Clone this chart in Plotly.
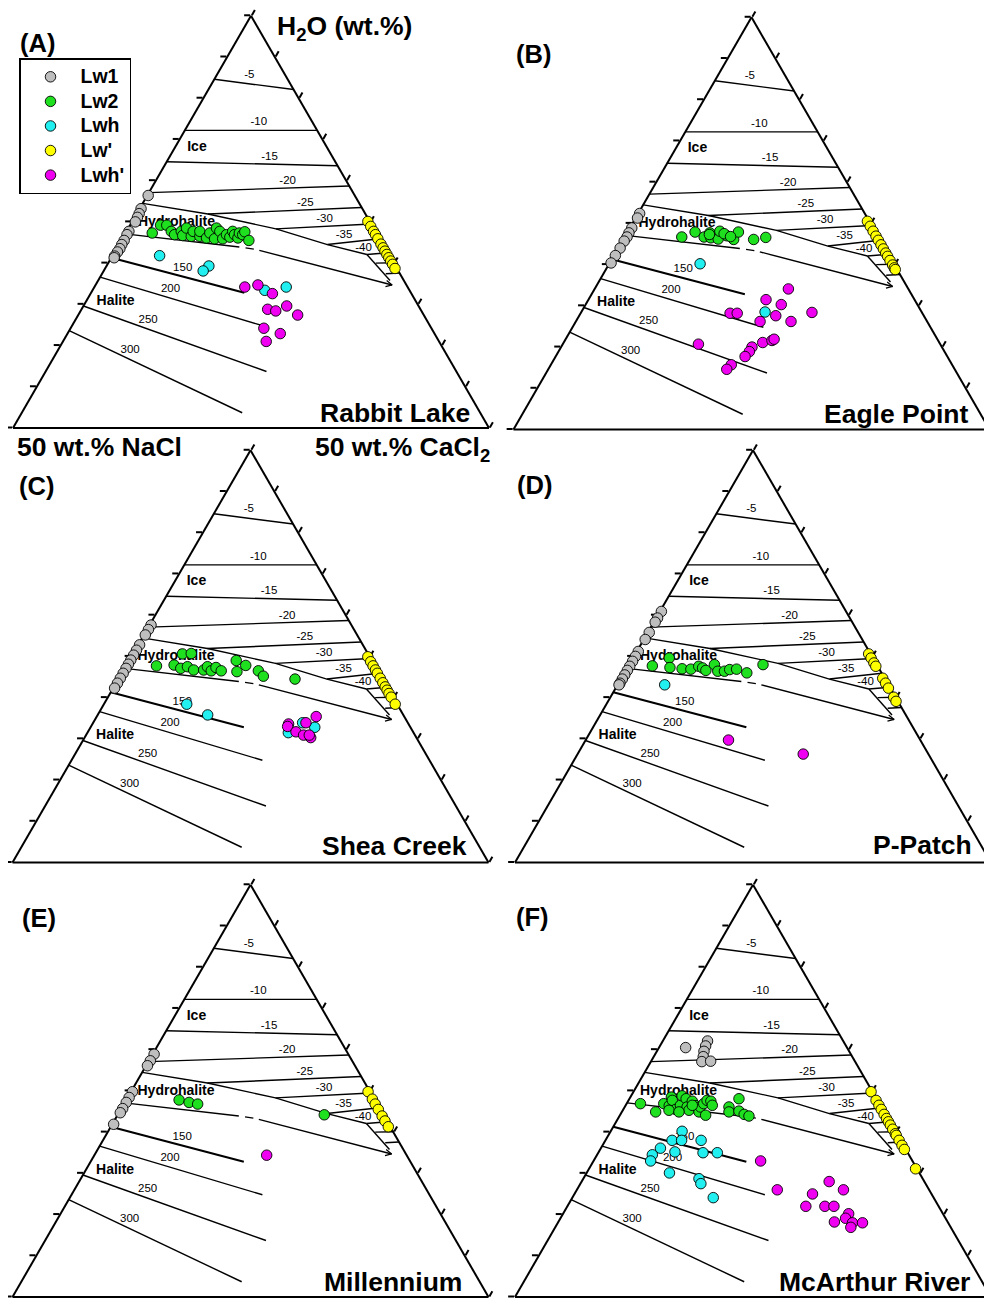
import plotly.graph_objects as go

FONT = "Liberation Sans, Arial, Helvetica, sans-serif"
FIG_W, FIG_H = 992, 1299
PAGE_MARGIN = 8  # default body margin of the html page

# ---------------- base diagram (shared by every panel), H2O / CaCl2 in % of the normalised triangle
ICE_ISO_T = ["-5", "-10", "-15", "-20", "-25", "-30", "-35", "-40"]
ice_iso_h2o_start = [84.6, 72.2, 64.6, 57.1, 51.9, 48.3, 44.5, 42.1]
ice_iso_cacl2_start = [0.0, 0.0, 0.0, 0.0, 15.0, 31.1, 43.8, 53.3]
ice_iso_h2o_end = [82.1, 72.2, 63.6, 58.7, 53.5, 49.5, 45.9, 42.5]
ice_iso_cacl2_end = [17.9, 27.8, 36.4, 41.3, 46.5, 50.5, 54.1, 57.5]
ice_lab_h2o = [85.7, 74.1, 65.8, 59.8, 54.6, 50.7, 46.9, 43.7]
ice_lab_cacl2 = [6.8, 14.6, 21.0, 27.8, 34.1, 40.1, 46.1, 51.8]

low_iso_h2o_start = [40.0, 37.4]
low_iso_cacl2_start = [56.2, 59.6]
low_iso_h2o_end = [40.1, 37.6]
low_iso_cacl2_end = [59.9, 62.4]

HAL_T = ["150", "200", "250", "300"]
hal_h2o_start = [41.3, 36.6, 29.6, 23.6]
hal_cacl2_start = [0.0, 0.0, 0.0, 0.0]
hal_h2o_end = [32.8, 24.8, 13.7, 3.7]
hal_cacl2_end = [32.2, 40.1, 46.4, 46.3]
hal_lab_h2o = [38.9, 33.8, 26.2, 19.0]
hal_lab_cacl2 = [16.2, 16.2, 15.3, 15.1]

ice_hh_h2o = [54.5, 51.9, 48.3, 44.5, 42.1]
ice_hh_cacl2 = [0.0, 15.0, 31.1, 43.8, 53.3]
eut_tail_h2o = [42.1, 35.8]
eut_tail_cacl2 = [53.3, 61.3]
hh_hal_h2o = [47.1, 43.9, None, 43.7, 43.4, None, 43.1, 34.7]
hh_hal_cacl2 = [0.0, 25.6, None, 27.0, 28.9, None, 30.2, 62.3]
arrow_h2o = [34.3, 34.7, 35.8]
arrow_cacl2 = [61.1, 62.3, 60.6]

FIELD_T = ["<b>Ice</b>", "<b>Hydrohalite</b>", "<b>Halite</b>"]
field_h2o = [68.1, 49.9, 30.7]
field_cacl2 = [4.6, 9.4, 6.2]

# ---------------- inclusion data (H2O, CaCl2 in %)
SERIES = ["Lw1", "Lw2", "Lwh", "Lw'", "Lwh'"]
COLORS = ["#BEBEBE", "#1EE01E", "#22F0F0", "#FFFF00", "#F000F0"]

# (A) Rabbit Lake
A_lw1_h2o = [56.4, 53.2, 52.0, 51.1, 50.0, 47.7, 46.9, 45.5, 44.5, 43.5, 42.7, 41.7, 41.3]
A_lw1_cacl2 = [0.2, 0.3, 0.5, 0.6, 0.7, 0.5, 0.5, 0.6, 0.6, 0.7, 0.6, 0.5, 0.6]
A_lw2_h2o = [47.3, 49.2, 49.2, 47.7, 46.9, 47.7, 46.7, 48.5, 46.5, 47.7, 46.5, 47.7, 46.1, 47.3,
             45.9, 48.5, 47.7, 45.9, 46.9, 46.3, 47.7, 46.9, 46.1, 47.3, 46.9, 47.6, 45.5]
A_lw2_cacl2 = [5.6, 6.4, 7.7, 9.4, 10.5, 11.5, 12.3, 12.2, 14.2, 14.0, 16.0, 15.4, 17.6, 17.7,
               19.4, 18.5, 19.6, 21.1, 21.4, 22.4, 22.3, 23.1, 24.2, 23.9, 24.8, 24.9, 26.8]
A_lwh_h2o = [41.8, 39.3, 38.1, 33.4, 34.2]
A_lwh_cacl2 = [9.9, 21.5, 20.9, 36.2, 40.3]
A_lwp_h2o = [50.1, 48.9, 47.7, 46.9, 45.9, 44.6, 43.7, 42.9, 42.1, 41.3, 40.5, 39.7, 38.7]
A_lwp_cacl2 = [49.5, 50.7, 51.9, 52.7, 53.7, 55.0, 55.9, 56.7, 57.5, 58.3, 59.1, 59.9, 60.9]
A_lwhp_h2o = [34.2, 34.7, 32.6, 28.8, 28.4, 29.6, 27.4, 24.2, 22.9, 21.0]
A_lwhp_cacl2 = [31.6, 34.1, 38.2, 39.1, 41.0, 42.7, 46.1, 40.6, 44.7, 42.7]

# (B) Eagle Point
B_lw1_h2o = [52.4, 51.3, 48.9, 47.7, 46.7, 45.7, 44.0, 42.2, 40.4]
B_lw1_cacl2 = [0.3, 0.4, 0.4, 0.4, 0.5, 0.4, 0.4, 0.3, 0.3]
B_lw2_h2o = [46.7, 47.9, 46.7, 47.7, 46.5, 46.2, 48.1, 47.0, 46.1, 47.9, 46.1, 46.6, 47.3, 47.5, 46.8]
B_lw2_cacl2 = [12.0, 14.2, 16.7, 17.4, 18.2, 19.9, 19.3, 21.3, 23.2, 23.3, 27.4, 29.7, 17.5, 20.5, 22.2]
B_lwh_h2o = [40.2, 28.5]
B_lwh_cacl2 = [19.1, 38.6]
B_lwp_h2o = [50.5, 49.3, 48.1, 46.9, 45.9, 44.8, 43.8, 42.8, 42.0, 41.0, 39.9, 39.2, 38.8]
B_lwp_cacl2 = [49.1, 50.3, 51.5, 52.7, 53.7, 54.8, 55.8, 56.8, 57.6, 58.6, 59.7, 60.4, 60.8]
B_lwhp_h2o = [34.1, 31.5, 30.3, 28.2, 28.2, 27.6, 28.4, 26.2, 26.2, 20.7, 20.0, 18.9, 17.7,
              21.1, 21.6, 21.9, 15.7, 14.6]
B_lwhp_cacl2 = [40.7, 37.3, 41.1, 31.4, 32.9, 41.3, 48.5, 38.7, 45.2, 28.5, 40.1, 40.1, 39.8,
                41.8, 43.5, 43.8, 37.9, 37.5]

# (C) Shea Creek
C_lw1_h2o = [57.6, 56.5, 55.2, 52.8, 51.5, 50.3, 49.1, 48.1, 47.1, 45.9, 44.7, 43.5, 42.3]
C_lw1_cacl2 = [0.3, 0.3, 0.3, 0.3, 0.3, 0.3, 0.3, 0.3, 0.3, 0.3, 0.3, 0.3, 0.3]
C_lw2_h2o = [47.7, 47.9, 50.6, 50.7, 47.1, 47.5, 46.7, 46.7, 47.5, 46.5, 47.3, 46.5, 49.0, 46.3,
             47.8, 46.5, 45.2, 44.5]
C_lw2_cacl2 = [6.4, 10.0, 10.4, 12.2, 11.8, 13.0, 14.7, 16.8, 17.2, 18.5, 19.1, 20.6, 22.5, 24.0,
               25.1, 28.4, 30.1, 37.1]
C_lwh_h2o = [38.4, 35.8, 31.5, 33.9, 32.8]
C_lwh_cacl2 = [17.4, 23.1, 42.2, 44.0, 47.1]
C_lwp_h2o = [49.9, 48.7, 47.7, 46.7, 45.9, 44.7, 43.6, 42.6, 41.8, 41.0, 40.1, 38.4]
C_lwp_cacl2 = [49.7, 50.9, 51.9, 52.9, 53.7, 54.9, 56.0, 57.0, 57.8, 58.6, 59.5, 61.2]
C_lwhp_h2o = [33.6, 33.0, 33.9, 35.4, 31.7, 30.9, 30.3, 30.9]
C_lwhp_cacl2 = [41.2, 41.3, 44.7, 46.1, 43.7, 45.7, 47.5, 46.9]

# (D) P-Patch
D_lw1_h2o = [60.9, 59.3, 58.3, 55.8, 54.1, 51.2, 50.0, 48.8, 47.6, 46.6, 45.5, 44.5, 43.5, 43.1]
D_lw1_cacl2 = [0.3, 0.3, 0.3, 0.3, 0.3, 0.3, 0.3, 0.3, 0.3, 0.3, 0.3, 0.3, 0.3, 0.3]
D_lw2_h2o = [47.7, 49.6, 47.3, 47.0, 46.9, 47.6, 47.2, 46.6, 48.0, 46.4, 46.4, 46.8, 46.9, 46.0, 48.0]
D_lw2_cacl2 = [5.0, 7.6, 8.9, 11.6, 13.5, 14.8, 15.8, 16.8, 17.9, 19.4, 20.8, 21.7, 23.1, 25.7, 28.1]
D_lwh_h2o = [43.1]
D_lwh_cacl2 = [9.9]
D_lwp_h2o = [50.6, 49.6, 48.4, 47.6, 44.7, 43.5, 42.3, 40.1, 39.1]
D_lwp_cacl2 = [49.0, 50.0, 51.2, 52.0, 54.9, 56.1, 57.3, 59.5, 60.5]
D_lwhp_h2o = [29.7, 26.3]
D_lwhp_cacl2 = [30.0, 47.4]

# (E) Millennium
E_lw1_h2o = [58.9, 57.3, 56.1, 49.8, 48.4, 47.2, 45.7, 44.7, 41.9]
E_lw1_cacl2 = [0.3, 0.3, 0.3, 0.3, 0.3, 0.3, 0.3, 0.3, 0.3]
E_lw2_h2o = [47.8, 47.2, 46.8, 44.2]
E_lw2_cacl2 = [11.1, 13.5, 15.5, 43.4]
E_lwh_h2o = []
E_lwh_cacl2 = []
E_lwp_h2o = [49.8, 48.0, 46.8, 45.5, 43.9, 42.7, 41.3]
E_lwp_cacl2 = [49.8, 51.6, 52.8, 54.1, 55.7, 56.9, 58.3]
E_lwhp_h2o = [34.4]
E_lwhp_cacl2 = [36.2]

# (F) McArthur River
F_lw1_h2o = [60.5, 62.1, 60.9, 59.6, 58.3, 57.1, 57.2]
F_lw1_cacl2 = [5.6, 9.4, 9.6, 9.9, 10.4, 10.7, 12.5]
F_lw2_h2o = [46.9, 44.9, 46.9, 46.4, 48.5, 47.7, 45.5, 46.5, 48.8, 48.1, 46.1, 45.3, 47.5, 46.4, 44.9,
             46.1, 46.9, 44.1, 47.7, 47.5, 46.5, 46.1, 44.9, 48.1, 45.1, 44.3, 43.9, 45.3, 44.9, 46.5]
F_lw2_cacl2 = [2.9, 7.1, 7.8, 9.2, 8.6, 9.2, 11.0, 11.5, 10.7, 11.9, 13.1, 13.9, 13.5, 14.8, 16.2,
               15.9, 16.2, 18.0, 16.5, 17.4, 18.2, 21.9, 22.5, 23.0, 24.5, 26.0, 27.2, 9.7, 12.0, 14.0]
F_lwh_h2o = [40.2, 38.0, 38.0, 38.0, 36.1, 34.5, 33.0, 35.2, 35.0, 35.0, 30.1, 28.7, 27.5, 24.1]
F_lwh_cacl2 = [15.0, 14.0, 16.0, 20.1, 12.5, 11.6, 12.0, 16.0, 22.0, 25.0, 17.4, 24.3, 25.3, 29.6]
F_lwp_h2o = [49.8, 47.7, 46.5, 45.5, 44.3, 43.3, 42.5, 41.7, 40.7, 39.6, 39.2, 38.0, 36.8, 35.8, 31.1]
F_lwp_cacl2 = [49.9, 52.0, 53.2, 54.2, 55.4, 56.4, 57.2, 58.0, 59.0, 60.1, 60.5, 61.7, 62.9, 63.9, 68.6]
F_lwhp_h2o = [33.0, 26.0, 28.0, 26.0, 25.0, 22.0, 22.0, 22.0, 20.2, 19.1, 18.2, 18.0, 18.0, 16.9]
F_lwhp_cacl2 = [35.1, 42.1, 52.0, 56.0, 50.0, 50.1, 54.1, 56.0, 60.0, 59.9, 58.0, 61.9, 64.0, 62.1]

PANEL_LETTERS = ["(A)", "(B)", "(C)", "(D)", "(E)", "(F)"]
SITES = ["Rabbit Lake", "Eagle Point", "Shea Creek", "P-Patch", "Millennium", "McArthur River"]

PANEL_DATA = [
    [(A_lw1_h2o, A_lw1_cacl2), (A_lw2_h2o, A_lw2_cacl2), (A_lwh_h2o, A_lwh_cacl2), (A_lwp_h2o, A_lwp_cacl2), (A_lwhp_h2o, A_lwhp_cacl2)],
    [(B_lw1_h2o, B_lw1_cacl2), (B_lw2_h2o, B_lw2_cacl2), (B_lwh_h2o, B_lwh_cacl2), (B_lwp_h2o, B_lwp_cacl2), (B_lwhp_h2o, B_lwhp_cacl2)],
    [(C_lw1_h2o, C_lw1_cacl2), (C_lw2_h2o, C_lw2_cacl2), (C_lwh_h2o, C_lwh_cacl2), (C_lwp_h2o, C_lwp_cacl2), (C_lwhp_h2o, C_lwhp_cacl2)],
    [(D_lw1_h2o, D_lw1_cacl2), (D_lw2_h2o, D_lw2_cacl2), (D_lwh_h2o, D_lwh_cacl2), (D_lwp_h2o, D_lwp_cacl2), (D_lwhp_h2o, D_lwhp_cacl2)],
    [(E_lw1_h2o, E_lw1_cacl2), (E_lw2_h2o, E_lw2_cacl2), (E_lwh_h2o, E_lwh_cacl2), (E_lwp_h2o, E_lwp_cacl2), (E_lwhp_h2o, E_lwhp_cacl2)],
    [(F_lw1_h2o, F_lw1_cacl2), (F_lw2_h2o, F_lw2_cacl2), (F_lwh_h2o, F_lwh_cacl2), (F_lwp_h2o, F_lwp_cacl2), (F_lwhp_h2o, F_lwhp_cacl2)],
]

# ---------------- layout geometry (page pixels)
TRI_W = 476.0
TRI_H = TRI_W * 3 ** 0.5 / 2
PANEL_BL_X = [13.0, 513.5, 12.5, 515.0, 12.5, 515.0]
PANEL_BASE_Y = [428.0, 429.5, 862.5, 862.5, 1297.0, 1297.0]
LETTER_XY = [(37.5, 43), (533, 54.5), (36.5, 486.5), (534, 485), (38.5, 918), (532, 917)]
SITE_XY = [(472, 413), (969.5, 414.5), (468.5, 846.5), (973.5, 845), (463.5, 1282), (971.5, 1281.5)]


def px(x):
    return (x - PAGE_MARGIN) / FIG_W


def py(y):
    return 1 - (y - PAGE_MARGIN) / FIG_H


def join_segments(a0, c0, a1, c1):
    aa, cc = [], []
    for i in range(len(a0)):
        aa += [a0[i], a1[i], None]
        cc += [c0[i], c1[i], None]
    return aa, cc


fig = go.Figure()
layout_ternaries = {}
for i in range(6):
    sub = "ternary" if i == 0 else f"ternary{i + 1}"
    x0 = PANEL_BL_X[i]
    yb = PANEL_BASE_Y[i]
    axis_common = dict(showticklabels=False, showgrid=False, showline=True, linecolor="black",
                       linewidth=2, layer="below traces", min=0, title=dict(text=""))
    layout_ternaries[sub] = dict(
        sum=100,
        bgcolor="white",
        domain=dict(x=[px(x0), px(x0 + TRI_W)], y=[py(yb), py(yb - TRI_H)]),
        aaxis=dict(ticks="outside", ticklen=6, tickwidth=1.5, tickcolor="black", dtick=10, tick0=0, **axis_common),
        baxis=dict(ticks="", **axis_common),
        caxis=dict(ticks="outside", ticklen=6, tickwidth=1.5, tickcolor="black", dtick=10, tick0=0, **axis_common),
    )

    def add_line(a, c, width=1.4):
        fig.add_trace(go.Scatterternary(a=a, c=c, mode="lines", subplot=sub,
                                        line=dict(color="black", width=width),
                                        showlegend=False, hoverinfo="skip", connectgaps=False))

    aa, cc = join_segments(ice_iso_h2o_start, ice_iso_cacl2_start, ice_iso_h2o_end, ice_iso_cacl2_end)
    add_line(aa, cc)
    aa, cc = join_segments(low_iso_h2o_start, low_iso_cacl2_start, low_iso_h2o_end, low_iso_cacl2_end)
    add_line(aa, cc)
    aa, cc = join_segments(hal_h2o_start[1:], hal_cacl2_start[1:], hal_h2o_end[1:], hal_cacl2_end[1:])
    add_line(aa, cc)
    add_line([hal_h2o_start[0], hal_h2o_end[0]], [hal_cacl2_start[0], hal_cacl2_end[0]], width=2.2)
    add_line(ice_hh_h2o, ice_hh_cacl2)
    add_line(eut_tail_h2o, eut_tail_cacl2)
    add_line(hh_hal_h2o, hh_hal_cacl2)
    add_line(arrow_h2o, arrow_cacl2, width=1.2)

    fig.add_trace(go.Scatterternary(a=ice_lab_h2o, c=ice_lab_cacl2, text=ICE_ISO_T, mode="text", subplot=sub,
                                    textfont=dict(family=FONT, size=11.5, color="black"),
                                    showlegend=False, hoverinfo="skip", cliponaxis=False))
    fig.add_trace(go.Scatterternary(a=hal_lab_h2o, c=hal_lab_cacl2, text=HAL_T, mode="text", subplot=sub,
                                    textfont=dict(family=FONT, size=11.5, color="black"),
                                    showlegend=False, hoverinfo="skip", cliponaxis=False))
    fig.add_trace(go.Scatterternary(a=field_h2o, c=field_cacl2, text=FIELD_T, mode="text", subplot=sub,
                                    textfont=dict(family=FONT, size=14, color="black"),
                                    showlegend=False, hoverinfo="skip", cliponaxis=False))

    for k, (ha, ca) in enumerate(PANEL_DATA[i]):
        fig.add_trace(go.Scatterternary(
            a=ha, c=ca, mode="markers", subplot=sub,
            name=f'<span style="font-size:19.5px">{SERIES[k]}</span>',
            marker=dict(size=10.5, color=COLORS[k], line=dict(color="black", width=0.9)),
            showlegend=(i == 0), cliponaxis=False, hoverinfo="skip"))

annotations = []
for i in range(6):
    lx, ly = LETTER_XY[i]
    annotations.append(dict(text=f"<b>{PANEL_LETTERS[i]}</b>", x=px(lx), y=py(ly), xref="paper", yref="paper",
                            xanchor="center", yanchor="middle", showarrow=False,
                            font=dict(family=FONT, size=25.5, color="black")))
    sx, sy = SITE_XY[i]
    annotations.append(dict(text=f"<b>{SITES[i]}</b>", x=px(sx), y=py(sy), xref="paper", yref="paper",
                            xanchor="right", yanchor="middle", showarrow=False,
                            font=dict(family=FONT, size=26.5, color="black")))

annotations.append(dict(text="<b>H<sub>2</sub>O (wt.%)</b>", x=px(275), y=py(28), xref="paper", yref="paper",
                        xanchor="left", yanchor="middle", showarrow=False,
                        font=dict(family=FONT, size=26.5, color="black")))
annotations.append(dict(text="<b>50 wt.% NaCl</b>", x=px(15), y=py(447), xref="paper", yref="paper",
                        xanchor="left", yanchor="middle", showarrow=False,
                        font=dict(family=FONT, size=26.5, color="black")))
annotations.append(dict(text="<b>50 wt.% CaCl<sub>2</sub></b>", x=px(313), y=py(449), xref="paper", yref="paper",
                        xanchor="left", yanchor="middle", showarrow=False,
                        font=dict(family=FONT, size=26.5, color="black")))

fig.update_layout(
    width=FIG_W, height=FIG_H,
    margin=dict(l=0, r=0, t=0, b=0),
    paper_bgcolor="white",
    plot_bgcolor="white",
    showlegend=True,
    legend=dict(x=px(19), y=py(58), xanchor="left", yanchor="top", bgcolor="white",
                bordercolor="black", borderwidth=1.5, itemwidth=50, tracegroupgap=0,
                font=dict(family=FONT, size=16.6, color="black", weight="bold")),
    annotations=annotations,
    **layout_ternaries,
)

fig.write_html("out.html", config={"displayModeBar": False})
